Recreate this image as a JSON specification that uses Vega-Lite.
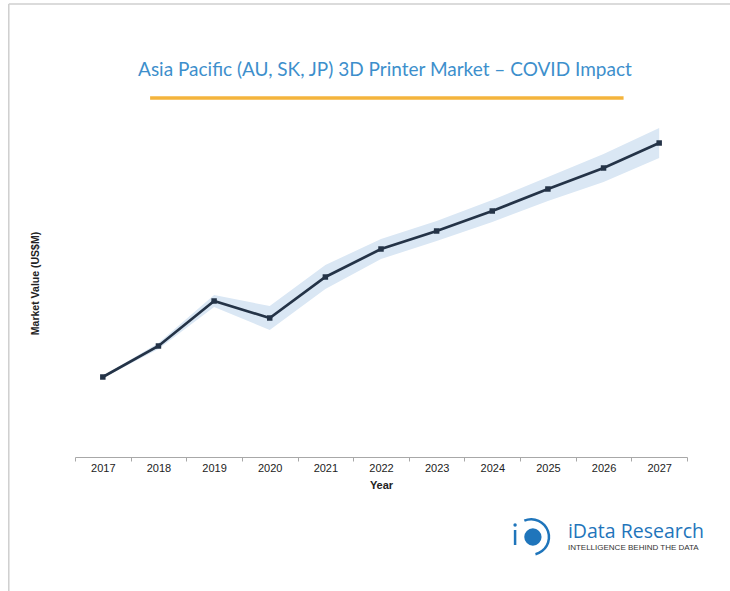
{
  "$schema": "https://vega.github.io/schema/vega-lite/v6.json",
  "autosize": {"type": "none"},
  "padding": {"left": 75, "top": 98, "right": 43, "bottom": 134},
  "width": 612,
  "height": 359,
  "background": "white",
  "config": {"view": {"stroke": null}},
  "datasets": {
    "market": [
      {"year": "2017", "value": 80, "low": 79, "high": 81},
      {"year": "2018", "value": 111, "low": 108, "high": 114},
      {"year": "2019", "value": 156, "low": 150, "high": 162},
      {"year": "2020", "value": 139, "low": 127, "high": 151},
      {"year": "2021", "value": 180, "low": 168, "high": 192},
      {"year": "2022", "value": 208, "low": 198, "high": 218},
      {"year": "2023", "value": 226, "low": 216, "high": 236},
      {"year": "2024", "value": 246, "low": 235, "high": 257},
      {"year": "2025", "value": 268, "low": 256, "high": 280},
      {"year": "2026", "value": 289, "low": 275, "high": 303},
      {"year": "2027", "value": 314, "low": 299, "high": 329}
    ]
  },
  "layer": [
    {
      "data": {"values": [{}]},
      "mark": {"type": "rule", "color": "#cfcfcf", "strokeWidth": 1.5, "clip": false},
      "encoding": {
        "x": {"datum": "2017", "type": "ordinal", "bandPosition": -1.19},
        "y": {"datum": 453, "type": "quantitative"},
        "y2": {"datum": -140}
      }
    },
    {
      "data": {"values": [{}]},
      "mark": {"type": "rule", "color": "#cfcfcf", "strokeWidth": 1.5, "clip": false},
      "encoding": {
        "x": {"datum": "2017", "type": "ordinal", "bandPosition": -1.19},
        "x2": {"datum": "2027", "bandPosition": 1.8},
        "y": {"datum": 453, "type": "quantitative"}
      }
    },
    {
      "data": {"values": [{"t": "Asia Pacific (AU, SK, JP) 3D Printer Market – COVID Impact"}]},
      "mark": {"type": "text", "font": "Lato", "fontSize": 19, "color": "#3d8fcc", "align": "center", "baseline": "middle", "clip": false},
      "encoding": {
        "x": {"datum": "2022", "type": "ordinal", "bandPosition": 0.57},
        "y": {"datum": 387, "type": "quantitative"},
        "text": {"field": "t"}
      }
    },
    {
      "data": {"values": [{}]},
      "mark": {"type": "rule", "color": "#f4b43c", "strokeWidth": 3.5, "clip": false},
      "encoding": {
        "x": {"datum": "2018", "type": "ordinal", "bandPosition": 0.35},
        "x2": {"datum": "2026", "bandPosition": 0.86},
        "y": {"datum": 359, "type": "quantitative"}
      }
    },
    {
      "data": {"name": "market"},
      "mark": {"type": "area", "color": "#dae7f4", "opacity": 1},
      "encoding": {
        "x": {
          "field": "year",
          "type": "ordinal",
          "scale": {"type": "band", "paddingInner": 0, "paddingOuter": 0},
          "axis": {
            "title": "Year",
            "labelAngle": 0,
            "labelAlign": "center",
            "tickBand": "extent",
            "tickSize": 4,
            "domainColor": "#a8a8a8",
            "tickColor": "#a8a8a8",
            "labelFont": "Liberation Sans",
            "labelFontSize": 11,
            "labelColor": "#222222",
            "labelPadding": 7,
            "titleFont": "Liberation Sans",
            "titleFontSize": 11,
            "titleFontWeight": "bold",
            "titleColor": "#222222",
            "titlePadding": 6,
            "grid": false
          }
        },
        "y": {
          "field": "low",
          "type": "quantitative",
          "scale": {"domain": [0, 359], "nice": false, "zero": false},
          "axis": {
            "title": "Market Value (US$M)",
            "labels": false,
            "ticks": false,
            "domain": false,
            "grid": false,
            "minExtent": 0,
            "titleFont": "Liberation Sans",
            "titleFontSize": 10.5,
            "titleFontWeight": "bold",
            "titleColor": "#222222",
            "titlePadding": 35,
            "titleY": 185
          }
        },
        "y2": {"field": "high"}
      }
    },
    {
      "data": {"name": "market"},
      "mark": {
        "type": "line",
        "color": "#243347",
        "strokeWidth": 2.7,
        "point": {"shape": "square", "size": 30, "filled": true, "color": "#243347"}
      },
      "encoding": {
        "x": {"field": "year", "type": "ordinal"},
        "y": {"field": "value", "type": "quantitative"}
      }
    },
    {
      "data": {"values": [{"t": "iData Research"}]},
      "mark": {"type": "text", "font": "Open Sans", "fontSize": 19.5, "color": "#1f75bb", "align": "left", "baseline": "middle", "clip": false},
      "encoding": {
        "x": {"datum": "2025", "type": "ordinal", "bandPosition": 0.86},
        "y": {"datum": -75, "type": "quantitative"},
        "text": {"field": "t"}
      }
    },
    {
      "data": {"values": [{"t": "INTELLIGENCE BEHIND THE DATA"}]},
      "mark": {"type": "text", "font": "Liberation Sans", "fontSize": 8, "color": "#333333", "align": "left", "baseline": "middle", "clip": false},
      "encoding": {
        "x": {"datum": "2025", "type": "ordinal", "bandPosition": 0.86},
        "y": {"datum": -91, "type": "quantitative"},
        "text": {"field": "t"}
      }
    },
    {
      "data": {"values": [{}]},
      "mark": {"type": "point", "shape": "circle", "filled": true, "size": 300, "color": "#1f75bb", "opacity": 1, "clip": false},
      "encoding": {
        "x": {"datum": "2025", "type": "ordinal", "bandPosition": 0.23},
        "y": {"datum": -80, "type": "quantitative"}
      }
    },
    {
      "data": {"values": [{}]},
      "mark": {"type": "arc", "theta": -0.4, "theta2": 2.9, "radius": 19, "radius2": 16.5, "color": "#1f75bb", "clip": false},
      "encoding": {
        "x": {"datum": "2025", "type": "ordinal", "bandPosition": 0.2},
        "y": {"datum": -80, "type": "quantitative"}
      }
    },
    {
      "data": {"values": [{}]},
      "mark": {"type": "point", "shape": "circle", "filled": true, "size": 12, "color": "#1f75bb", "opacity": 1, "clip": false},
      "encoding": {
        "x": {"datum": "2024", "type": "ordinal", "bandPosition": 0.91},
        "y": {"datum": -68, "type": "quantitative"}
      }
    },
    {
      "data": {"values": [{}]},
      "mark": {"type": "rule", "color": "#1f75bb", "strokeWidth": 2.5, "clip": false},
      "encoding": {
        "x": {"datum": "2024", "type": "ordinal", "bandPosition": 0.91},
        "y": {"datum": -73, "type": "quantitative"},
        "y2": {"datum": -88}
      }
    }
  ]
}
